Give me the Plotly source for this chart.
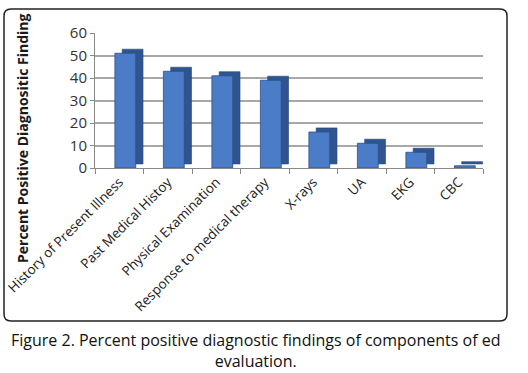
import plotly.graph_objects as go

categories = ["History of Present Illness", "Past Medical Histoy", "Physical Examination",
              "Response to medical therapy", "X-rays", "UA", "EKG", "CBC"]
values = [51, 43, 41, 39, 16, 11, 7, 1]
y_ticks = [0, 10, 20, 30, 40, 50, 60]

W, H = 528, 373
L, R, T, B = 95, 45, 33, 205
pw, ph = W - L - R, H - T - B

def px(x):
    return (x - L) / pw

def py(y):
    return (H - B - y) / ph

fig = go.Figure()
# depth (side/top) faces
fig.add_trace(go.Bar(x=categories, y=values, base=1.8, width=0.43, offset=-0.09 + 0.15,
                     marker=dict(color="#2f5590", line=dict(color="#27477a", width=0.6)),
                     hoverinfo="skip", showlegend=False))
# front faces
fig.add_trace(go.Bar(x=categories, y=values, width=0.43, offset=-0.09,
                     marker=dict(color="#4a7cc8", line=dict(color="#2c4f88", width=0.8)),
                     showlegend=False))

# rounded frame path (paper coordinates)
x0, x1, y0, y1, r = 4, 507, 9, 321, 7
def P(x, y):
    return f"{px(x):.5f},{py(y):.5f}"
frame = (f"M {P(x0 + r, y0)} L {P(x1 - r, y0)} Q {P(x1, y0)} {P(x1, y0 + r)} "
         f"L {P(x1, y1 - r)} Q {P(x1, y1)} {P(x1 - r, y1)} "
         f"L {P(x0 + r, y1)} Q {P(x0, y1)} {P(x0, y1 - r)} "
         f"L {P(x0, y0 + r)} Q {P(x0, y0)} {P(x0 + r, y0)} Z")

fig.update_layout(
    width=W, height=H,
    margin=dict(l=L, r=R, t=T, b=B),
    paper_bgcolor="white", plot_bgcolor="white",
    barmode="overlay",
    font=dict(family="Open Sans, DejaVu Sans, sans-serif", color="#1a1a1a"),
    xaxis=dict(tickangle=-45, tickfont=dict(size=13.5), ticks="outside", ticklen=5,
               tickson="boundaries", tickcolor="#888", showline=True, linecolor="#888",
               linewidth=1, showgrid=False, automargin=False, range=[-0.5, 7.5]),
    yaxis=dict(range=[0, 60], tickvals=y_ticks, tickfont=dict(size=15, color="#333"),
               showgrid=True, gridcolor="#a8a8a8", gridwidth=1.5, showline=True,
               linecolor="#888", ticks="outside", ticklen=4, tickcolor="#888",
               automargin=False, zeroline=False),
    shapes=[dict(type="path", xref="paper", yref="paper", path=frame,
                 line=dict(color="#222", width=1.5), layer="above")],
    annotations=[
        dict(text="<b>Percent Positive Diagnositic Finding</b>", textangle=-90,
             xref="paper", yref="paper", x=px(22), y=py(139), showarrow=False,
             font=dict(size=14, color="#1a1a1a"), xanchor="center", yanchor="middle"),
        dict(text="Figure 2. Percent positive diagnostic findings of components of ed<br>evaluation.",
             xref="paper", yref="paper", x=px(256), y=py(350), showarrow=False,
             font=dict(size=16, color="#111"), xanchor="center", yanchor="middle", align="center"),
    ],
)

fig.write_html("out.html", config={"displayModeBar": False},
               post_script="document.body.style.margin='0';")
